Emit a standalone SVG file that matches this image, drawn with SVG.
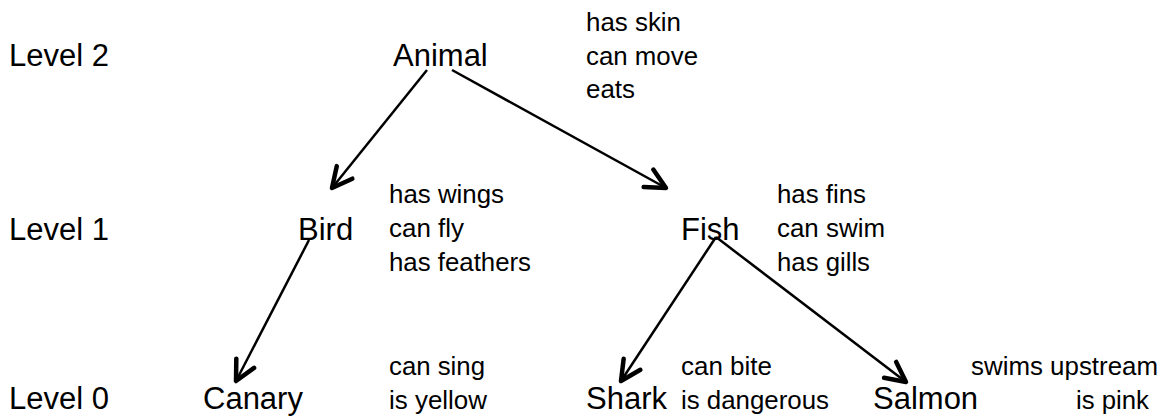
<svg xmlns="http://www.w3.org/2000/svg" width="1167" height="418" viewBox="0 0 1167 418">
<style>
text{font-family:"Liberation Sans",Arial,sans-serif;fill:#000}
.big{font-size:31px}
.sm{font-size:25px}
.edge{stroke:#000;stroke-width:2.5;fill:none}
</style>
<defs>
<marker id="arr" markerUnits="userSpaceOnUse" markerWidth="30" markerHeight="30" refX="0" refY="0" viewBox="-24 -15 30 30" orient="auto">
<path d="M-20,-10 L0,0 L-20,10" fill="none" stroke="#000" stroke-width="4.5" stroke-linecap="round" stroke-linejoin="round"/>
</marker>
</defs>
<rect width="1167" height="418" fill="#fff"/>
<g id="levels">
<text class="big" x="9" y="66">Level 2</text>
<text class="big" x="9" y="240">Level 1</text>
<text class="big" x="9" y="409">Level 0</text>
</g>
<g id="connectors">
<line class="edge" x1="427" y1="70" x2="332" y2="188" marker-end="url(#arr)"/>
<line class="edge" x1="452" y1="70" x2="666" y2="188" marker-end="url(#arr)"/>
<line class="edge" x1="309" y1="240" x2="236" y2="381" marker-end="url(#arr)"/>
<line class="edge" x1="716" y1="237" x2="621" y2="381" marker-end="url(#arr)"/>
<line class="edge" x1="716" y1="237" x2="906" y2="382" marker-end="url(#arr)"/>
</g>
<g id="animal">
<text class="big" x="393" y="66">Animal</text>
<text class="sm" x="586" y="31" textLength="95" lengthAdjust="spacingAndGlyphs">has skin</text>
<text class="sm" x="586" y="65" textLength="112" lengthAdjust="spacingAndGlyphs">can move</text>
<text class="sm" x="586" y="98" textLength="49" lengthAdjust="spacingAndGlyphs">eats</text>
</g>
<g id="bird">
<text class="big" x="298" y="240">Bird</text>
<text class="sm" x="389" y="203" textLength="115" lengthAdjust="spacingAndGlyphs">has wings</text>
<text class="sm" x="389" y="237" textLength="75" lengthAdjust="spacingAndGlyphs">can fly</text>
<text class="sm" x="389" y="271" textLength="142" lengthAdjust="spacingAndGlyphs">has feathers</text>
</g>
<g id="fish">
<text class="big" x="681" y="240">Fish</text>
<text class="sm" x="777" y="203" textLength="89" lengthAdjust="spacingAndGlyphs">has fins</text>
<text class="sm" x="777" y="237" textLength="108" lengthAdjust="spacingAndGlyphs">can swim</text>
<text class="sm" x="777" y="271" textLength="93" lengthAdjust="spacingAndGlyphs">has gills</text>
</g>
<g id="canary">
<text class="big" x="203" y="409">Canary</text>
<text class="sm" x="389" y="375" textLength="96" lengthAdjust="spacingAndGlyphs">can sing</text>
<text class="sm" x="389" y="409" textLength="98" lengthAdjust="spacingAndGlyphs">is yellow</text>
</g>
<g id="shark">
<text class="big" x="586" y="409">Shark</text>
<text class="sm" x="681" y="375" textLength="91" lengthAdjust="spacingAndGlyphs">can bite</text>
<text class="sm" x="681" y="409" textLength="148" lengthAdjust="spacingAndGlyphs">is dangerous</text>
</g>
<g id="salmon">
<text class="big" x="873" y="409">Salmon</text>
<text class="sm" x="971" y="375" textLength="187" lengthAdjust="spacingAndGlyphs">swims upstream</text>
<text class="sm" x="1076" y="409" textLength="73" lengthAdjust="spacingAndGlyphs">is pink</text>
</g>
</svg>
